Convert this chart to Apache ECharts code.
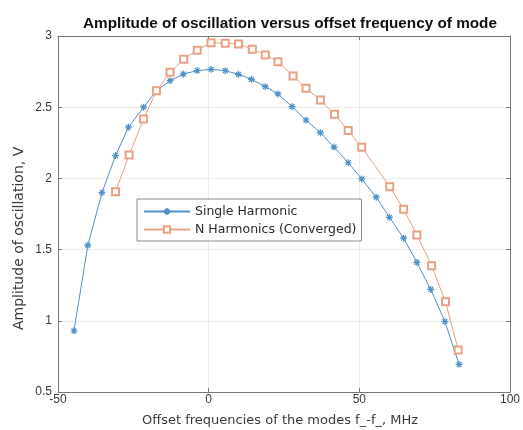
<!DOCTYPE html>
<html>
<head>
<meta charset="utf-8">
<script src="https://cdn.jsdelivr.net/npm/echarts@6/dist/echarts.min.js"></script>
<style>
  html, body { margin: 0; padding: 0; background: #fff; }
  #chart { width: 523px; height: 430px; }
</style>
</head>
<body>
<div id="chart"></div>
<script>
// Offset frequency (MHz) and amplitude (V) for each model
const singleOffset = [-44.7, -40.1, -35.4, -30.9, -26.6, -21.6, -17.3, -12.8, -8.4, -3.8,
  0.8, 5.5, 9.9, 14.2, 18.8, 23.0, 27.7, 32.3, 37.1, 41.6, 46.3, 50.8, 55.6, 60.0, 64.7,
  69.1, 73.7, 78.4, 83.1];
const singleAmp = [0.93, 1.53, 1.90, 2.16, 2.36, 2.50, 2.616, 2.686, 2.733, 2.757,
  2.766, 2.756, 2.731, 2.696, 2.644, 2.593, 2.504, 2.41, 2.321, 2.22, 2.11, 1.996, 1.868,
  1.727, 1.58, 1.41, 1.22, 0.994, 0.694];

const nOffset = [-30.9, -26.4, -21.6, -17.3, -12.8, -8.3, -3.8, 0.8, 5.5, 9.9, 14.5, 18.8,
  23.0, 28.0, 32.3, 37.1, 41.8, 46.3, 50.8, 60.1, 64.7, 69.1, 74.0, 78.6, 82.8];
const nAmp = [1.907, 2.164, 2.417, 2.616, 2.745, 2.837, 2.90, 2.953, 2.949, 2.944, 2.907,
  2.867, 2.82, 2.719, 2.633, 2.551, 2.45, 2.337, 2.218, 1.942, 1.783, 1.603, 1.387, 1.134, 0.795];

const seriesNames = ['Single Harmonic', 'N Harmonics (Converged)'];
const xTicks = { min: -50, max: 100, interval: 50 };
const yTicks = { min: 0.5, max: 3, interval: 0.5 };

const blue = '#4f91c9';
const orange = '#e9a084';
const axisGrey = '#767676';
const font = 'Liberation Sans, Arial, sans-serif';
const wideFont = 'DejaVu Sans, Verdana, sans-serif';

// asterisk marker built from open strokes
const asterisk = 'path://M0,-1L0,1M-1,0L1,0M-0.7,-0.7L0.7,0.7M-0.7,0.7L0.7,-0.7';

const zip = (xs, ys) => xs.map((x, i) => [x, ys[i]]);

const chart = echarts.init(document.getElementById('chart'), null, { renderer: 'canvas' });

const baseAxis = {
  axisLine: { onZero: false, lineStyle: { color: axisGrey, width: 1 } },
  axisTick: { inside: true, length: 4, lineStyle: { color: axisGrey } },
  axisLabel: { color: '#3a3a3a', fontFamily: font, fontSize: 12 },
  splitLine: { show: false }
};

chart.setOption({
  animation: false,
  backgroundColor: '#fff',
  title: {
    text: 'Amplitude of oscillation versus offset frequency of mode',
    left: 285, top: 11, textAlign: 'center',
    textStyle: { fontFamily: font, fontSize: 15.3, fontWeight: 'bold', color: '#111' }
  },
  grid: { left: 58, right: 9, top: 36, bottom: 38, containLabel: false },
  legend: {
    data: seriesNames,
    orient: 'vertical',
    left: 137, top: 199,
    itemWidth: 46, itemHeight: 8, itemGap: 5,
    padding: [6, 5, 5, 6],
    backgroundColor: '#fff',
    borderColor: '#8a8a8a', borderWidth: 1, borderRadius: 0,
    textStyle: { fontFamily: wideFont, fontSize: 12.5, color: '#2a2a2a' }
  },
  xAxis: [
    Object.assign({}, baseAxis, {
      type: 'value', min: xTicks.min, max: xTicks.max, interval: xTicks.interval,
      axisLabel: Object.assign({}, baseAxis.axisLabel, { margin: 2 }),
      splitLine: { show: true, lineStyle: { color: '#ececec' } }
    }),
    Object.assign({}, baseAxis, {
      type: 'value', position: 'top', min: xTicks.min, max: xTicks.max, interval: xTicks.interval,
      axisLabel: { show: false }
    })
  ],
  yAxis: [
    Object.assign({}, baseAxis, {
      type: 'value', min: yTicks.min, max: yTicks.max, interval: yTicks.interval,
      axisLabel: Object.assign({}, baseAxis.axisLabel, { margin: 6 }),
      splitLine: { show: true, lineStyle: { color: '#ececec' } }
    }),
    Object.assign({}, baseAxis, {
      type: 'value', position: 'right', min: yTicks.min, max: yTicks.max, interval: yTicks.interval,
      axisLabel: { show: false }
    })
  ],
  graphic: [
    {
      type: 'text', left: 142, top: 414,
      style: { text: 'Offset frequencies of the modes f_-f_, MHz', font: '13px ' + wideFont, fill: '#3a3a3a' }
    },
    {
      type: 'text', x: 12, y: 330, rotation: Math.PI / 2,
      style: { text: 'Amplitude of oscillation, V', font: '14px ' + wideFont, fill: '#3a3a3a' }
    }
  ],
  series: [
    {
      name: seriesNames[0], type: 'line',
      data: zip(singleOffset, singleAmp),
      symbol: asterisk, symbolSize: 7,
      lineStyle: { color: blue, width: 1 },
      itemStyle: { color: blue, borderColor: blue, borderWidth: 1.2 }
    },
    {
      name: seriesNames[1], type: 'line',
      data: zip(nOffset, nAmp),
      symbol: 'emptyRect', symbolSize: 7,
      lineStyle: { color: orange, width: 1 },
      itemStyle: { color: orange, borderColor: orange, borderWidth: 1 }
    }
  ]
});
</script>
</body>
</html>
